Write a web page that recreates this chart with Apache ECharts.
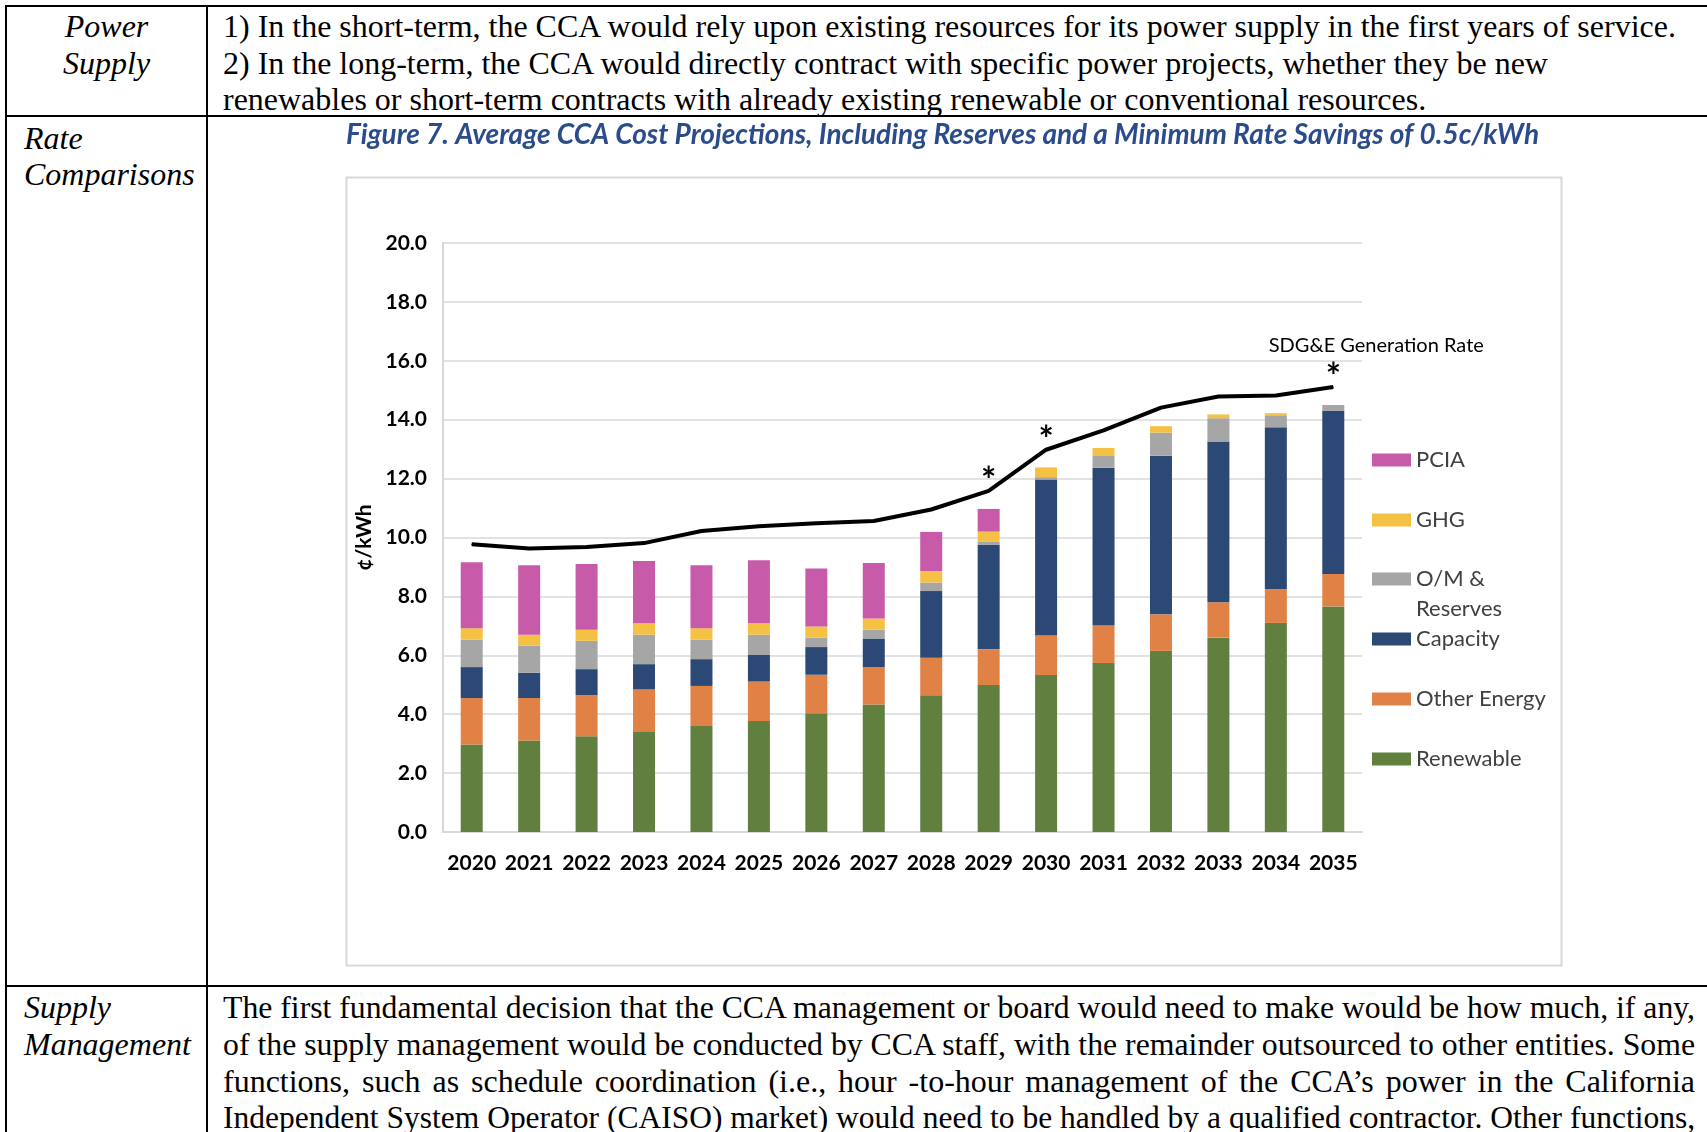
<!DOCTYPE html>
<html>
<head>
<meta charset="utf-8">
<script src="https://cdn.jsdelivr.net/npm/echarts@6/dist/echarts.min.js"></script>
<style>
  html, body { margin: 0; padding: 0; background: #fff; }
  body { width: 1707px; height: 1132px; position: relative; overflow: hidden;
         font-family: "Liberation Serif", "Times New Roman", serif; font-size: 32px; color: #000; }
  .hl { position: absolute; height: 2px; background: #000; }
  .vl { position: absolute; width: 2px; background: #000; }
  .ln { position: absolute; white-space: nowrap; line-height: 36.7px; transform-origin: 0 50%; }
  .it { font-style: italic; }
  .ctr { text-align: center; transform-origin: 50% 50%; }
  .just { text-align: justify; text-align-last: justify; }
  #chart { position: absolute; left: 208px; top: 118px; width: 1499px; height: 867px; }
</style>
</head>
<body>
<!-- table rules -->
<div class="hl" style="left:5px; top:5px; width:1702px;"></div>
<div class="hl" style="left:5px; top:115px; width:1702px;"></div>
<div class="hl" style="left:5px; top:985px; width:1702px;"></div>
<div class="vl" style="left:5px; top:5px; height:1127px;"></div>
<div class="vl" style="left:206px; top:5px; height:1127px;"></div>

<!-- left column -->
<div class="ln it ctr" style="left:7px; width:199px; top:8px;">Power</div>
<div class="ln it ctr" style="left:7px; width:199px; top:45px;">Supply</div>
<div class="ln it" style="left:24px; top:120px;">Rate</div>
<div class="ln it" style="left:24px; top:156px;">Comparisons</div>
<div class="ln it" style="left:24px; top:989px;">Supply</div>
<div class="ln it" style="left:24px; top:1026px;">Management</div>

<!-- right column -->
<div class="ln" id="ref" style="left:223px; top:8px;">1) In the short-term, the CCA would rely upon existing resources for its power supply in the first years of service.</div>
<div class="ln" style="left:223px; top:45px;">2) In the long-term, the CCA would directly contract with specific power projects, whether they be new</div>
<div class="ln" style="left:223px; top:81px;">renewables or short-term contracts with already existing renewable or conventional resources.</div>

<div class="ln just" style="left:223px; top:989px;">The first fundamental decision that the CCA management or board would need to make would be how much, if any,</div>
<div class="ln just" style="left:223px; top:1026px;">of the supply management would be conducted by CCA staff, with the remainder outsourced to other entities. Some</div>
<div class="ln just" style="left:223px; top:1063px;">functions, such as schedule coordination (i.e., hour -to-hour management of the CCA’s power in the California</div>
<div class="ln just" style="left:223px; top:1099px;">Independent System Operator (CAISO) market) would need to be handled by a qualified contractor. Other functions,</div>

<div id="chart"></div>

<script>
// condensed serif like the scanned document
const refLine = document.getElementById('ref')
const sx = 1453 / refLine.offsetWidth
document.querySelectorAll('.ln').forEach((el) => {
  let s = sx
  if (el.classList.contains('just')) {
    s = Math.min(sx, 1472 / el.offsetWidth)
    el.style.width = (1472 / s) + 'px'
  }
  if (el.classList.contains('ctr')) {
    el.style.width = (199 / s) + 'px'
    el.style.left = (7 + 199 / 2 - 199 / s / 2) + 'px'
  }
  el.style.transform = 'scaleX(' + s + ')'
})

const years = ['2020', '2021', '2022', '2023', '2024', '2025', '2026', '2027', '2028', '2029', '2030', '2031', '2032', '2033', '2034', '2035']
const renewable = [2.97, 3.11, 3.25, 3.42, 3.60, 3.77, 4.03, 4.33, 4.64, 4.99, 5.33, 5.74, 6.15, 6.60, 7.10, 7.66]
const otherEnergy = [1.58, 1.44, 1.40, 1.42, 1.36, 1.34, 1.31, 1.27, 1.28, 1.22, 1.34, 1.27, 1.24, 1.20, 1.15, 1.10]
const capacity = [1.05, 0.86, 0.88, 0.86, 0.91, 0.90, 0.94, 0.97, 2.26, 3.54, 5.30, 5.36, 5.39, 5.46, 5.49, 5.54]
const omReserves = [0.93, 0.92, 0.96, 1.00, 0.66, 0.69, 0.32, 0.30, 0.29, 0.10, 0.08, 0.42, 0.78, 0.79, 0.41, 0.20]
const ghg = [0.39, 0.37, 0.38, 0.39, 0.39, 0.39, 0.38, 0.38, 0.39, 0.35, 0.33, 0.25, 0.22, 0.13, 0.07, 0]
const pcia = [2.24, 2.36, 2.23, 2.11, 2.14, 2.14, 1.97, 1.88, 1.33, 0.77, 0, 0, 0, 0, 0, 0]
const sdgeRate = [9.77, 9.63, 9.68, 9.81, 10.22, 10.38, 10.48, 10.56, 10.95, 11.58, 12.98, 13.64, 14.41, 14.79, 14.82, 15.11]
const starYears = ['2029', '2030', '2035']

const chartFont = 'Lato, "Open Sans", sans-serif'
const legendText = { fontFamily: chartFont, fontSize: 22, color: '#404040', lineHeight: 24 }
const legendBase = { orient: 'vertical', left: 1164, padding: 0, itemWidth: 39, itemHeight: 13, icon: 'rect' }

const bar = (name, data, color) => ({
  name,
  type: 'bar',
  stack: 'cost',
  barWidth: 22,
  data,
  itemStyle: { color },
  emphasis: { disabled: true }
})

const myChart = echarts.init(document.getElementById('chart'))
myChart.setOption({
  animation: false,
  title: {
    text: 'Figure 7. Average CCA Cost Projections, Including Reserves and a Minimum Rate Savings of 0.5c/kWh',
    left: 138,
    top: 3,
    padding: 0,
    textStyle: { fontFamily: chartFont, fontSize: 28, fontWeight: 'bold', fontStyle: 'italic', color: '#2b4c8c' }
  },
  graphic: [{
    type: 'rect',
    left: 136,
    top: 57,
    shape: { width: 1215, height: 788 },
    style: { fill: 'none', stroke: '#d9d9d9', lineWidth: 2 },
    silent: true
  }],
  grid: { left: 235, top: 125, width: 919, height: 589 },
  legend: [
    { ...legendBase, data: ['PCIA', 'GHG'], top: 330, itemGap: 36, textStyle: legendText },
    { ...legendBase, data: ['O/M & Reserves'], top: 416,
      formatter: () => ' \nO/M &\nReserves',
      textStyle: { ...legendText, lineHeight: 30 } },
    { ...legendBase, data: ['Capacity', 'Other Energy', 'Renewable'], top: 509, itemGap: 36, textStyle: legendText }
  ],
  xAxis: {
    type: 'category',
    data: years,
    axisTick: { show: false },
    axisLine: { lineStyle: { color: '#d9d9d9', width: 2 } },
    axisLabel: { interval: 0, margin: 21, fontFamily: chartFont, fontSize: 21, fontWeight: 'bold', color: '#000' }
  },
  yAxis: {
    type: 'value',
    min: 0,
    max: 20,
    interval: 2,
    name: '¢/kWh',
    nameLocation: 'middle',
    nameRotate: 90,
    nameGap: 66,
    nameTextStyle: { fontFamily: chartFont, fontSize: 21, fontWeight: 'bold', color: '#000' },
    axisLine: { show: true, lineStyle: { color: '#d9d9d9', width: 2 } },
    axisTick: { show: false },
    splitLine: { lineStyle: { color: '#d9d9d9', width: 1.5 } },
    axisLabel: { margin: 16, formatter: (v) => v.toFixed(1), fontFamily: chartFont, fontSize: 21, fontWeight: 'bold', color: '#000' }
  },
  series: [
    bar('Renewable', renewable, '#617f3e'),
    bar('Other Energy', otherEnergy, '#e08245'),
    bar('Capacity', capacity, '#2c4875'),
    bar('O/M & Reserves', omReserves, '#a6a6a6'),
    bar('GHG', ghg, '#f4c145'),
    bar('PCIA', pcia, '#c85aaa'),
    {
      name: 'SDG&E Generation Rate',
      type: 'line',
      data: sdgeRate.map((v, i) => starYears.includes(years[i])
        ? { value: v, label: { show: true } }
        : v),
      symbol: 'circle',
      symbolSize: 1,
      itemStyle: { color: '#000' },
      lineStyle: { color: '#000', width: 4 },
      label: { show: false, position: 'top', distance: -9, formatter: '*', fontFamily: chartFont, fontSize: 36, fontWeight: 'bold', color: '#000' },
      markPoint: {
        symbol: 'circle',
        symbolSize: 0,
        label: { show: true, position: 'inside', offset: [43, -41], formatter: 'SDG&E Generation Rate', fontFamily: chartFont, fontSize: 20, color: '#000' },
        data: [{ coord: [years[15], sdgeRate[15]] }]
      },
      z: 5,
      emphasis: { disabled: true }
    }
  ]
})
</script>
</body>
</html>
